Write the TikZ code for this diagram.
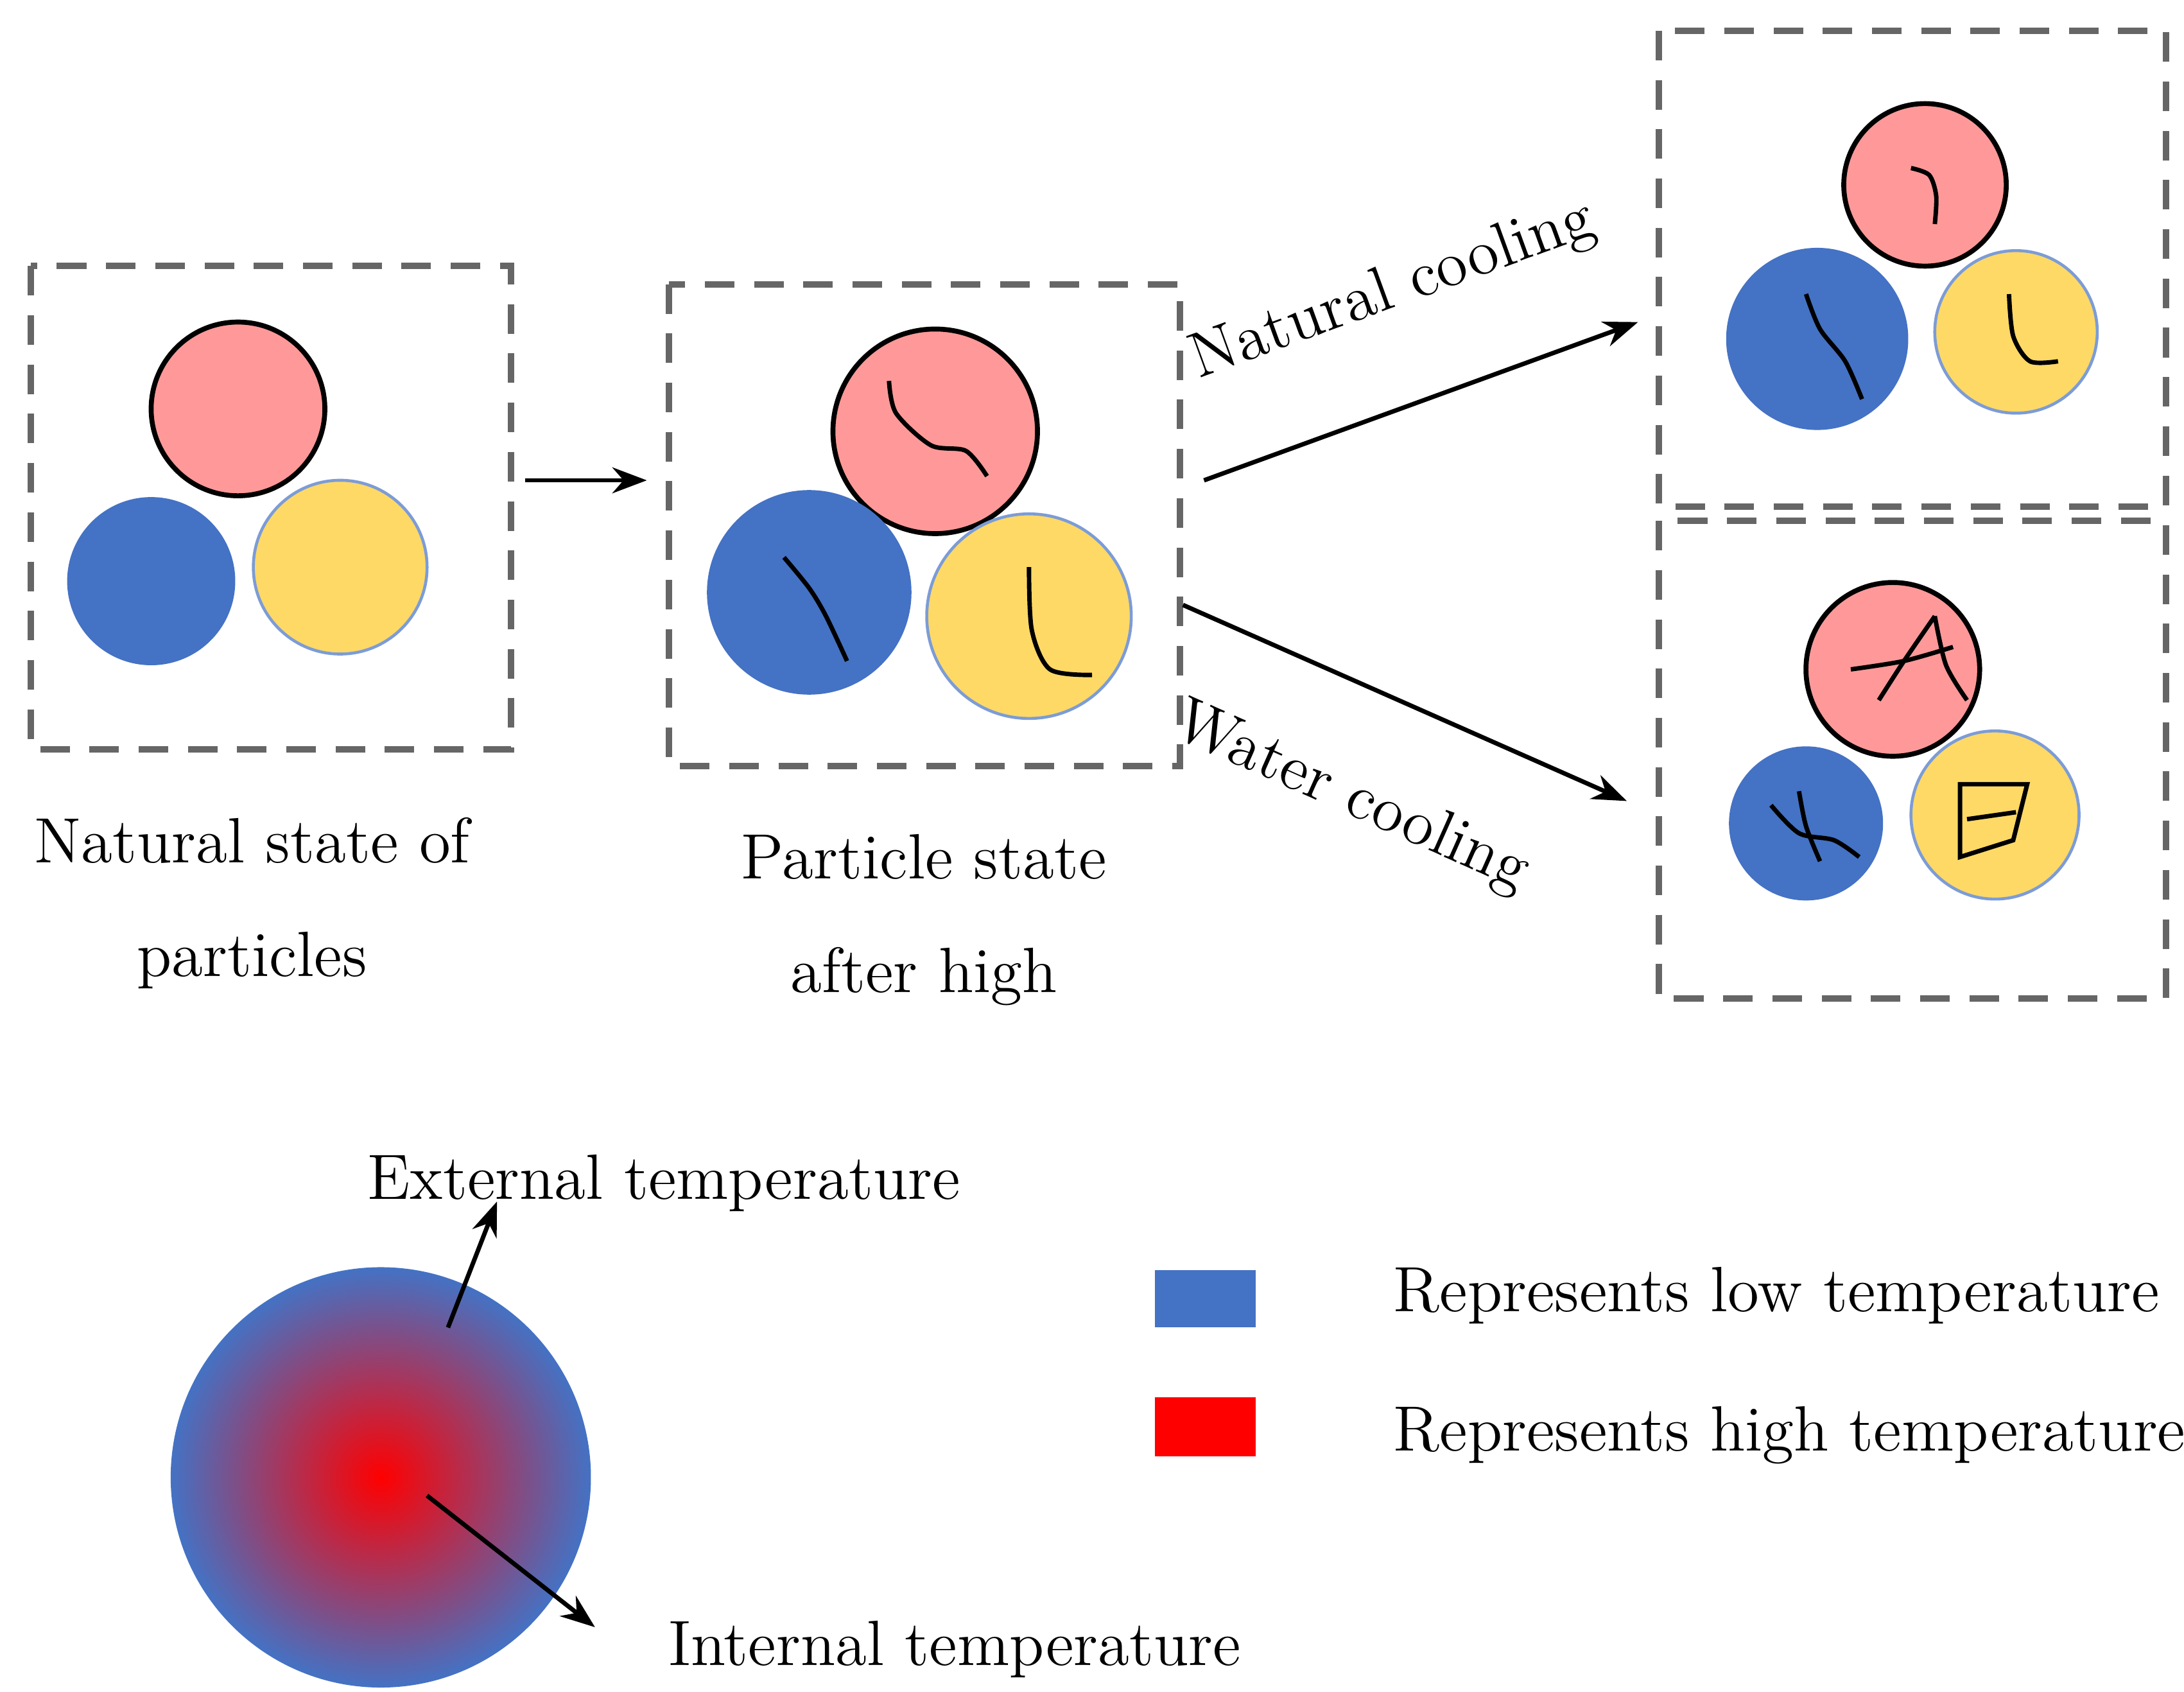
\documentclass[tikz,border=0pt]{standalone}
\usepackage{tikz}
\usetikzlibrary{arrows.meta}
\definecolor{pinkp}{HTML}{FF9999}
\definecolor{bluep}{HTML}{4472C4}
\definecolor{yellowp}{HTML}{FFD966}
\begin{document}
\begin{tikzpicture}[x=0.01cm,y=-0.01cm,
		box/.style={draw=gray!80!black,dashed,dash pattern=on 6pt off 4pt,line width=1.3pt},
		pk/.style={circle,draw=black,line width=1pt,fill=pinkp,inner sep=0pt,minimum size=#1},
		bl/.style={circle,fill=bluep,inner sep=0pt,minimum size=#1},
		yl/.style={circle,draw=bluep!70,line width=0.6pt,fill=yellowp,inner sep=0pt,minimum size=#1},
		crack/.style={line width=0.9pt,black},
		arr/.style={-{Stealth[length=7pt]},line width=0.9pt},
		txt/.style={font=\fontsize{13}{17}\selectfont,align=center}
		]
		\useasboundingbox (0,0) rectangle (1560,1208);
		%Natural state
		\draw[box] (22,190) rectangle (365,535);
		\node[pk=1.24cm] (p1) at (170,292) {};
		\node[bl=1.20cm] (b1) at (108,415) {};
		\node[yl=1.24cm] (y1) at (243,405) {};
		\node[txt] (t1) at (180,645) {Natural state of\\[6pt]particles};
		%After heating
		\draw[box] (478,203) rectangle (843,547);
		\node[pk=1.46cm] (p2) at (668,308) {};
		\node[bl=1.46cm] (b2) at (578,423) {};
		\node[yl=1.46cm] (y2) at (735,440) {};
		\draw[crack] plot[smooth] coordinates {(635,272) (640,295) (665,318) (690,322) (705,340)};
		\draw[crack] plot[smooth] coordinates {(560,398) (578,420) (590,440) (605,472)};
		\draw[crack] plot[smooth] coordinates {(735,405) (737,450) (750,478) (780,482)};
		\node[txt] (t2) at (660,657) {Particle state\\[6pt]after high};
		%Natural cooling
		\draw[box] (1185,22) rectangle (1547,362);
		\node[pk=1.16cm] (p3) at (1375,132) {};
		\node[bl=1.30cm] (b3) at (1298,242) {};
		\node[yl=1.16cm] (y3) at (1440,237) {};
		\draw[crack] plot[smooth] coordinates {(1365,120) (1378,125) (1383,140) (1382,160)};
		\draw[crack] plot[smooth] coordinates {(1290,210) (1300,235) (1318,258) (1330,285)};
		\draw[crack] plot[smooth] coordinates {(1435,210) (1438,240) (1450,258) (1470,258)};
		%Water cooling
		\draw[box] (1185,372) rectangle (1547,713);
		\node[pk=1.24cm] (p4) at (1352,478) {};
		\node[bl=1.10cm] (b4) at (1290,588) {};
		\node[yl=1.20cm] (y4) at (1425,582) {};
		\draw[crack] plot[smooth] coordinates {(1322,478) (1360,472) (1395,462)};
		\draw[crack] plot[smooth] coordinates {(1342,500) (1360,472) (1382,440)};
		\draw[crack] plot[smooth] coordinates {(1382,440) (1390,475) (1405,500)};
		\draw[crack] plot[smooth] coordinates {(1265,575) (1285,595) (1310,600) (1328,612)};
		\draw[crack] plot[smooth] coordinates {(1285,565) (1290,590) (1300,615)};
		\draw[crack] (1400,560) -- (1448,560) -- (1438,600) -- (1400,612) -- cycle;
		\draw[crack] (1405,585) -- (1440,580);
		%Arrows
		\coordinate (a1s) at (375,343);
		\coordinate (a1e) at (462,343);
		\draw[arr] (a1s) -- (a1e);
		\coordinate (a2s) at (860,343);
		\coordinate (a2e) at (1170,230);
		\draw[arr] (a2s) -- (a2e);
		\coordinate (a3s) at (845,432);
		\coordinate (a3e) at (1162,572);
		\draw[arr] (a3s) -- (a3e);
		\node[txt,rotate=20] (nc) at (995,208) {Natural cooling};
		\node[txt,rotate=-24] (wc) at (965,570) {Water cooling};
		%Temperature legend
		\node[circle,minimum width=3.0cm,minimum height=2.86cm,inner sep=0pt,
			inner color=red,outer color=bluep] (g) at (272,1055) {};
		\node[txt,anchor=west] (ext) at (250,845) {External temperature};
		\node[txt,anchor=west] (int) at (465,1178) {Internal temperature};
		\coordinate (e1) at (320,948);
		\coordinate (e2) at (355,858);
		\draw[arr] (e1) -- (e2);
		\coordinate (i1) at (305,1068);
		\coordinate (i2) at (425,1162);
		\draw[arr] (i1) -- (i2);
		\fill[bluep] (825,907) rectangle (897,948);
		\fill[red] (825,998) rectangle (897,1040);
		\node[txt,anchor=west] (lo) at (983,925) {Represents low temperature};
		\node[txt,anchor=west] (hi) at (983,1025) {Represents high temperature};
	\end{tikzpicture}
\end{document}
